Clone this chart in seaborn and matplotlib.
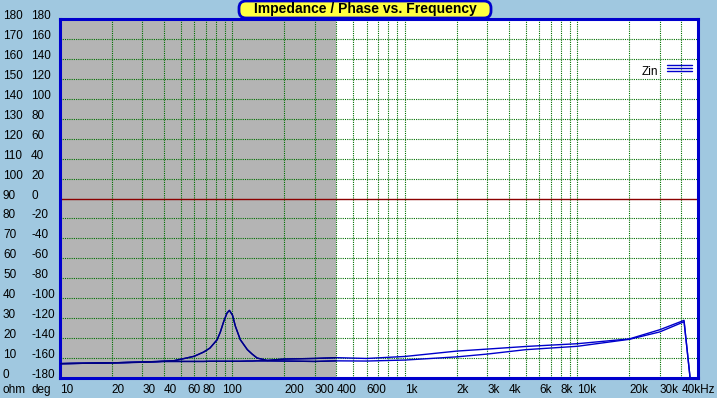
import matplotlib
matplotlib.use('Agg')
import numpy as np
import pandas as pd
import matplotlib.pyplot as plt
import matplotlib.transforms as mtransforms
from matplotlib.patches import FancyBboxPatch
import seaborn as sns

# impedance traces (ohm)
freq = [10, 20, 30, 40, 46, 54, 60, 68, 74, 81.5, 85, 89, 93, 96, 100, 104, 111, 122, 130,
        139, 159, 200, 300, 400, 600, 1000, 2000, 3000, 5000, 10000, 20000, 30000, 41500,
        43500, 45000]
zin_res = [7.2, 7.6, 8.0, 8.4, 8.7, 10.0, 10.9, 13.0, 15.0, 19.2, 23.0, 28.4, 32.6, 33.9,
           31.5, 25.9, 19.2, 14.2, 12.0, 10.0, 8.8, 9.5, 9.8, 10.2, 9.8, 10.8, 13.5, 14.5,
           15.8, 17.2, 19.6, 24.2, 28.9, 12.0, 0.0]
zin_flat = [7.2, 7.6, 7.9, 8.3, 8.3, 8.3, 8.3, 8.3, 8.4, 8.4, 8.4, 8.4, 8.4, 8.4, 8.4, 8.4,
            8.4, 8.5, 8.5, 8.6, 8.6, 8.5, 8.3, 8.6, 8.5, 9.0, 10.6, 12.0, 14.2, 15.9, 19.4,
            23.1, 28.2, 12.0, 0.0]

x_ticks = [10, 20, 30, 40, 60, 80, 100, 200, 300, 400, 600, 1000, 2000, 3000, 4000,
           6000, 8000, 10000, 20000, 30000, 40000]
x_labels = ['10', '20', '30', '40', '60', '80', '100', '200', '300', '400', '600', '1k', '2k',
            '3k', '4k', '6k', '8k', '10k', '20k', '30k', '40kHz']
ohm_ticks = list(range(0, 190, 10))
deg_ticks = list(range(-180, 200, 20))

BG = '#A0C8E0'
BLUE = '#0000CC'
NAVY = '#000080'
GRID = '#007000'

sns.set_style('white')
plt.rcParams['font.family'] = ['Liberation Sans', 'DejaVu Sans']
plt.rcParams['text.color'] = 'black'
plt.rcParams['xtick.color'] = 'black'

df = pd.DataFrame({
    'freq': freq * 2,
    'ohm': zin_res + zin_flat,
    'trace': ['res'] * len(freq) + ['flat'] * len(freq),
})

fig = plt.figure(figsize=(7.17, 3.98), dpi=100, facecolor=BG)
ax = fig.add_axes([60 / 717, 20 / 398, 638 / 717, 359 / 398])
ax.set_facecolor('white')
ax.set_xscale('log')
ax.set_xlim(10, 50000)
ax.set_ylim(0, 180)

# shaded low-frequency band
ax.axvspan(10, 400, color='#B4B4B4', lw=0, zorder=0)

# log grid
grid_x = [m * 10 ** d for d in range(1, 5) for m in range(1, 10) if 10 < m * 10 ** d < 50000]
for f in grid_x:
    ax.axvline(f, color=GRID, ls=(0, (1, 1)), lw=0.8, zorder=1)
for v in ohm_ticks[1:-1]:
    if v == 90:
        ax.axhline(v, color='#8B0000', lw=1.0, zorder=1)
    else:
        ax.axhline(v, color=GRID, ls=(0, (1, 1)), lw=0.8, zorder=1)

sns.lineplot(data=df, x='freq', y='ohm', units='trace', estimator=None, sort=False,
             color=BLUE, lw=1.0, ax=ax, zorder=3)
low = df[df['freq'] <= 400]
sns.lineplot(data=low, x='freq', y='ohm', units='trace', estimator=None, sort=False,
             color=NAVY, lw=1.0, ax=ax, zorder=4)
ax.set_xlabel('')
ax.set_ylabel('')

# x tick labels
ax.set_xticks(x_ticks)
ax.set_xticklabels(x_labels, fontsize=8.5)
ax.xaxis.set_minor_locator(matplotlib.ticker.NullLocator())
ax.tick_params(axis='x', length=0, pad=4.5)
for lab, txt in zip(ax.get_xticklabels(), x_labels):
    if txt in ('60', '100'):
        lab.set_ha('center')
    elif txt == '80':
        lab.set_ha('right')
    else:
        lab.set_ha('left')
ax.set_yticks([])

# two columns of y labels: ohm and deg
trans = mtransforms.blended_transform_factory(fig.transFigure, ax.transData)
for o, d in zip(ohm_ticks, deg_ticks):
    fig.text(3 / 717, o + 1.5, str(o), transform=trans, fontsize=8.5, va='center', ha='left')
    fig.text(31 / 717, o + 1.5, str(d), transform=trans, fontsize=8.5, va='center', ha='left')
fig.text(3 / 717, 1 - 390 / 398, 'ohm', fontsize=8.5, va='center', ha='left')
fig.text(31 / 717, 1 - 390 / 398, 'deg', fontsize=8.5, va='center', ha='left')

for s in ax.spines.values():
    s.set_color(BLUE)
    s.set_linewidth(2.2)

# legend
ax.text(0.912, 0.853, 'Zin', transform=ax.transAxes, fontsize=8.5, va='center', ha='left')
for yy in (0.873, 0.863, 0.854):
    ax.plot([0.951, 0.990], [yy, yy], transform=ax.transAxes, color=BLUE, lw=1.0, zorder=5)

# title box
box = FancyBboxPatch((239, 398 - 18), 252, 17, boxstyle='round,pad=0,rounding_size=7',
                     transform=mtransforms.IdentityTransform(), fc='#FFFF40', ec=BLUE,
                     lw=2, zorder=10)
fig.patches.append(box)
fig.text(365 / 717, 1 - 9.5 / 398, 'Impedance / Phase vs. Frequency', fontsize=10,
         fontweight='bold', ha='center', va='center', zorder=11)

fig.savefig('out.png', dpi=100, facecolor=fig.get_facecolor())
